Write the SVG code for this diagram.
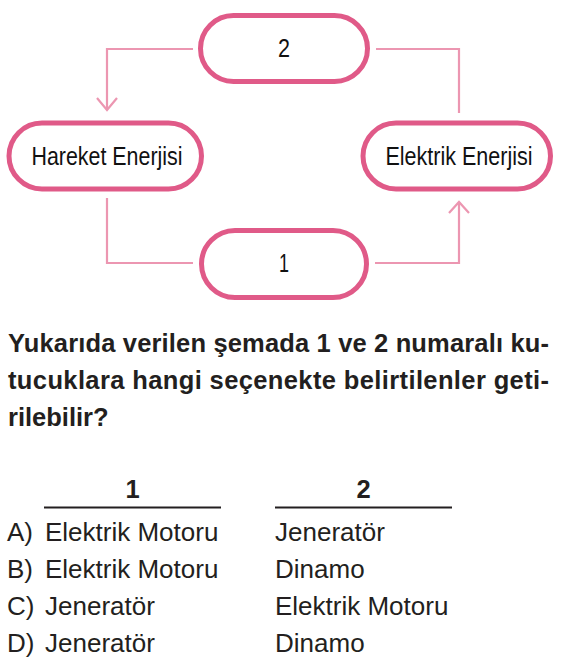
<svg xmlns="http://www.w3.org/2000/svg" width="562" height="669" viewBox="0 0 562 669">
<defs>
<style>
.pill{fill:#ffffff;stroke:#e05a88;stroke-width:5}
.conn{fill:none;stroke:#ec96b1;stroke-width:2.2}
.lbl{font-family:"Liberation Sans",Arial,sans-serif;font-size:25px;fill:#111;text-anchor:middle}
.q{font-family:"Liberation Sans",Arial,sans-serif;font-size:25.5px;font-weight:bold;fill:#231f20}
.a{font-family:"Liberation Sans",Arial,sans-serif;font-size:26px;fill:#231f20}
.h{font-family:"Liberation Sans",Arial,sans-serif;font-size:25.5px;font-weight:bold;fill:#231f20;text-anchor:middle}
</style>
</defs>
<rect width="562" height="669" fill="#ffffff"/>
<g id="connectors">
<polyline class="conn" points="193,49 107,49 107,110"/>
<polyline class="conn" points="97,98 107,110 117,98"/>
<polyline class="conn" points="376,49 459,49 459,113"/>
<polyline class="conn" points="107,198 107,263 193,263"/>
<polyline class="conn" points="375,263 459,263 459,202"/>
<polyline class="conn" points="449,213 459,202 469,213"/>
</g>
<g id="node-2">
<rect class="pill" x="200.5" y="15.5" width="167" height="66" rx="33"/>
<text class="lbl" x="284" y="57" textLength="12" lengthAdjust="spacingAndGlyphs">2</text>
</g>
<g id="node-hareket">
<rect class="pill" x="9" y="123" width="192.5" height="66" rx="33"/>
<text class="lbl" x="107" y="164.5" textLength="151" lengthAdjust="spacingAndGlyphs">Hareket Enerjisi</text>
</g>
<g id="node-elektrik">
<rect class="pill" x="363" y="123" width="187.5" height="66" rx="33"/>
<text class="lbl" x="459" y="164.5" textLength="147" lengthAdjust="spacingAndGlyphs">Elektrik Enerjisi</text>
</g>
<g id="node-1">
<rect class="pill" x="201.5" y="230.5" width="165" height="67" rx="33.5"/>
<text class="lbl" x="284" y="272" textLength="10" lengthAdjust="spacingAndGlyphs">1</text>
</g>
<g id="question">
<text class="q" x="8" y="351.5" textLength="541" lengthAdjust="spacing">Yukarıda verilen şemada 1 ve 2 numaralı ku-</text>
<text class="q" x="8" y="388.5" textLength="541" lengthAdjust="spacing">tucuklara hangi seçenekte belirtilenler geti-</text>
<text class="q" x="8" y="425.5">rilebilir?</text>
</g>
<g id="table">
<text class="h" x="132.5" y="498">1</text>
<text class="h" x="363.5" y="498">2</text>
<line x1="44" y1="507.5" x2="221" y2="507.5" stroke="#231f20" stroke-width="2"/>
<line x1="275" y1="507.5" x2="452" y2="507.5" stroke="#231f20" stroke-width="2"/>
<text class="a" x="7" y="541">A)</text><text class="a" x="45" y="541">Elektrik Motoru</text><text class="a" x="275" y="541">Jeneratör</text>
<text class="a" x="7" y="578">B)</text><text class="a" x="45" y="578">Elektrik Motoru</text><text class="a" x="275" y="578">Dinamo</text>
<text class="a" x="7" y="615">C)</text><text class="a" x="45" y="615">Jeneratör</text><text class="a" x="275" y="615">Elektrik Motoru</text>
<text class="a" x="7" y="652">D)</text><text class="a" x="45" y="652">Jeneratör</text><text class="a" x="275" y="652">Dinamo</text>
</g>
</svg>
